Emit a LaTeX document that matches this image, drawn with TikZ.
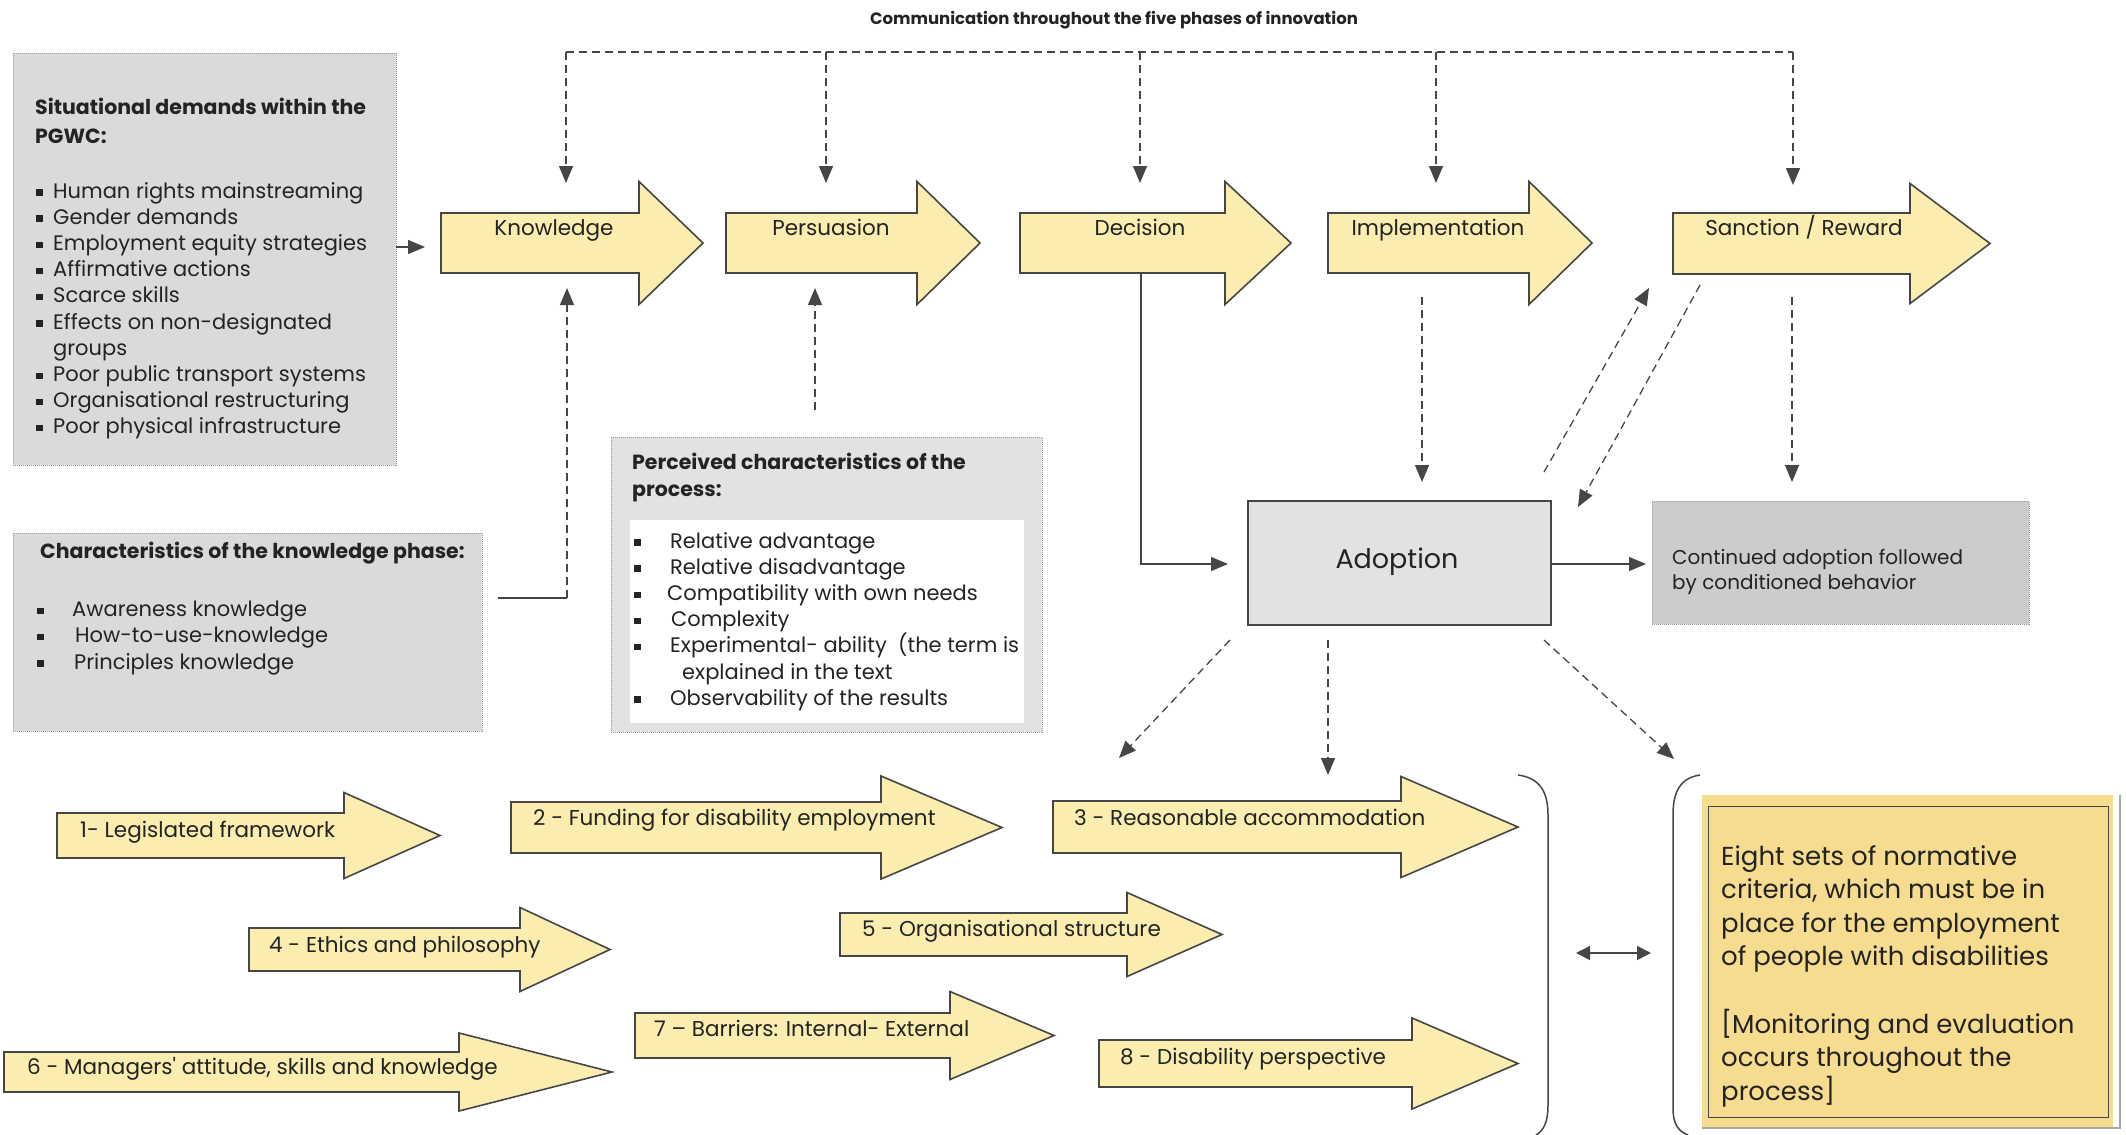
\documentclass[tikz,border=0pt]{standalone}
\usepackage{fontspec}
\setmainfont{Poppins}
\usetikzlibrary{arrows.meta}

\definecolor{pale}{RGB}{250,237,175}
\definecolor{gold}{RGB}{245,220,142}
\definecolor{edge}{RGB}{70,70,70}
\definecolor{ink}{RGB}{35,35,35}
\definecolor{greyA}{RGB}{218,218,218}
\definecolor{greyB}{RGB}{226,226,226}
\definecolor{greyC}{RGB}{204,204,204}

% square bullet in a box of the given width
\newcommand\bul[1]{\makebox[#1][l]{\rule[2.5pt]{6.5pt}{6.5pt}}}
% broad block arrow: x0, y-centre, half body, x of head, half head, x of tip
\newcommand\fatarrow[6]{%
  \draw[fat] (#1,#2-#3) -- (#4,#2-#3) -- (#4,#2-#5) -- (#6,#2)
    -- (#4,#2+#5) -- (#4,#2+#3) -- (#1,#2+#3) -- cycle;}

\begin{document}
\begin{tikzpicture}[x=1pt,y=-1pt,
  txt/.style={inner sep=0pt, text=ink, align=left, anchor=north west,
    font=\fontsize{21}{26.2}\selectfont},
  head/.style={txt, font=\fontsize{20.5}{29}\selectfont\bfseries},
  lbl/.style={inner sep=0pt, text=ink, font=\fontsize{21.5}{25}\selectfont,
    text height=0.75em, text depth=0.25em},
  fat/.style={draw=edge, line width=1.6pt, fill=pale, line join=miter},
  panel/.style={draw=gray!80, dash pattern=on 1pt off 1pt, line width=1pt,
    anchor=north west, inner sep=0pt, outer sep=0pt},
  tipA/.style={-{Triangle[length=17pt,width=14pt]}},
  solidarrow/.style={draw=edge, line width=1.3pt, tipA},
  dsh/.style={draw=edge, line width=1.3pt, dash pattern=on 8pt off 5pt},
  dasharrow/.style={dsh, tipA},
]
\useasboundingbox (0,0) rectangle (2126,1135);

% ---------- title and communication bus ----------
\node[inner sep=0pt, text=ink, font=\fontsize{16.5}{20}\selectfont\bfseries] (comm) at (1114,20)
  {Communication throughout the five phases of innovation};
\coordinate (bus0) at (566,52);
\coordinate (bus4) at (1793,52);
\coordinate (kIn) at (566,183);
\coordinate (pIn) at (826,183);
\coordinate (dIn) at (1140,183);
\coordinate (iIn) at (1436,183);
\coordinate (sIn) at (1793,185);
\draw[dsh] (bus0) -- (bus4);
\foreach \t in {kIn,pIn,dIn,iIn,sIn}
  \draw[dasharrow] (\t |- bus0) -- (\t);

% ---------- five phases ----------
\fatarrow{441}{243}{30}{639}{61.5}{703}
\fatarrow{726}{243}{30}{917}{61.5}{980}
\fatarrow{1020}{243}{30}{1225}{61.5}{1291}
\fatarrow{1328}{243}{30}{1529}{61.5}{1592}
\fatarrow{1673}{243.5}{30.5}{1910}{60}{1990}
\node[lbl] (know) at (554,233) {Knowledge};
\node[lbl] (pers) at (831,233) {Persuasion};
\node[lbl] (deci) at (1140,233) {Decision};
\node[lbl] (impl) at (1438,233) {Implementation};
\node[lbl] (sanc) at (1804,233) {Sanction / Reward};

% ---------- situational demands ----------
\node[panel, fill=greyA, minimum width=383pt, minimum height=412pt] (sit) at (13,53) {};
\node[head] (sitT) at (35,98) {Situational demands within the\\PGWC:};
\node[txt] (sitL) at (36,182) {%
  \bul{17pt}Human rights mainstreaming\\
  \bul{17pt}Gender demands\\
  \bul{17pt}Employment equity strategies\\
  \bul{17pt}Affirmative actions\\
  \bul{17pt}Scarce skills\\
  \bul{17pt}Effects on non-designated\\
  \hspace*{17pt}groups\\
  \bul{17pt}Poor public transport systems\\
  \bul{17pt}Organisational restructuring\\
  \bul{17pt}Poor physical infrastructure};
\coordinate (kLeft) at (425,247);
\draw[solidarrow] (sit.east |- kLeft) -- (kLeft);

% ---------- knowledge phase characteristics ----------
\node[panel, fill=greyA, minimum width=469pt, minimum height=198pt] (chr) at (13,533) {};
\node[head] (chrT) at (40,542) {Characteristics of the knowledge phase:};
\node[txt] (chrL) at (37,601) {%
  \bul{35pt}Awareness knowledge\\
  \bul{38pt}How-to-use-knowledge\\
  \bul{37pt}Principles knowledge};
\coordinate (chOut) at (498,598);
\coordinate (kBelow) at (567,288);
\draw[draw=edge, line width=1.3pt] (chOut) -- (kBelow |- chOut);
\draw[dasharrow] (kBelow |- chOut) -- (kBelow);

% ---------- perceived characteristics ----------
\node[panel, fill=greyB, minimum width=431pt, minimum height=295pt] (prc) at (611,437) {};
\node[fill=white, anchor=north west, inner sep=0pt, minimum width=394pt, minimum height=203pt] (prcW) at (630,520) {};
\node[head, font=\fontsize{20.5}{27}\selectfont\bfseries] (prcT) at (632,453) {Perceived characteristics of the\\process:};
\node[txt] (prcL) at (634,532) {%
  \bul{36pt}Relative advantage\\
  \bul{36pt}Relative disadvantage\\
  \bul{33pt}Compatibility with own needs\\
  \bul{37pt}Complexity\\
  \bul{36pt}Experimental- ability\ \ (the term is\\
  \hspace*{48pt}explained in the text\\
  \bul{36pt}Observability of the results};
\coordinate (prcOut) at (815,410);
\coordinate (pBelow) at (815,288);
\draw[dasharrow] (prcOut) -- (pBelow);

% ---------- adoption ----------
\node[draw=edge, line width=2pt, fill=greyB, anchor=north west, inner sep=0pt,
  minimum width=303pt, minimum height=124pt] (adopt) at (1247,500) {};
\node[inner sep=0pt, text=ink, font=\fontsize{27}{30}\selectfont] (adoptT) at (1397,562) {Adoption};
\node[panel, fill=greyC, minimum width=377pt, minimum height=123pt] (cont) at (1652,501) {};
\node[txt, font=\fontsize{20}{25}\selectfont] (contT) at (1672,549)
  {Continued adoption followed\\by conditioned behavior};

\coordinate (decOut) at (1141,272);
\coordinate (aLeft) at (1228,564);
\draw[solidarrow] (decOut) |- (aLeft);
\coordinate (implOut) at (1422,297);
\coordinate (aTop) at (1422,482);
\draw[dasharrow] (implOut) -- (aTop);
\coordinate (sancOut) at (1792,297);
\coordinate (cTop) at (1792,482);
\draw[dasharrow] (sancOut) -- (cTop);
\coordinate (cLeft) at (1646,564);
\draw[solidarrow] (adopt.east |- cLeft) -- (cLeft);

\coordinate (dgA) at (1544,472);
\coordinate (dgB) at (1649,288);
\coordinate (dgC) at (1700,285);
\coordinate (dgD) at (1578,507);
\draw[dasharrow] (dgA) -- (dgB);
\draw[dasharrow] (dgC) -- (dgD);

\coordinate (adL) at (1230,640);
\coordinate (adM) at (1328,640);
\coordinate (adR) at (1544,640);
\coordinate (toL) at (1119,758);
\coordinate (toM) at (1328,775);
\coordinate (toR) at (1674,759);
\draw[dasharrow] (adL) -- (toL);
\draw[dasharrow] (adM) -- (toM);
\draw[dasharrow] (adR) -- (toR);

% ---------- eight criteria ----------
\fatarrow{57}{835.5}{22.5}{344}{43}{440}
\fatarrow{511}{827.5}{25.5}{881}{51.5}{1002}
\fatarrow{1053}{827}{26}{1401}{50.5}{1518}
\fatarrow{249}{949.5}{21.5}{520}{42}{610}
\fatarrow{840}{934.5}{21.5}{1127}{42}{1222}
\fatarrow{4}{1072}{20}{459}{39}{612}
\fatarrow{635}{1035.5}{22.5}{950}{44}{1054}
\fatarrow{1099}{1063.5}{23.5}{1412}{45.5}{1518}
\node[lbl, anchor=west] (c1) at (80,835) {1- Legislated framework};
\node[lbl, anchor=west] (c2) at (533,823) {2 - Funding for disability employment};
\node[lbl, anchor=west] (c3) at (1074,823) {3 - Reasonable accommodation};
\node[lbl, anchor=west] (c4) at (269,950) {4 - Ethics and philosophy};
\node[lbl, anchor=west] (c5) at (862,934) {5 - Organisational structure};
\node[lbl, anchor=west] (c6) at (27,1072) {6 - Managers\textquotesingle{} attitude, skills and knowledge};
\node[lbl, anchor=west] (c7) at (654,1034) {7 -- Barriers: Internal- External};
\node[lbl, anchor=west] (c8) at (1120,1062) {8 - Disability perspective};

% closing and opening brackets
\draw[draw=edge, line width=1.5pt] (1518,775) .. controls (1540,778) and (1548,792) .. (1548,815)
  -- (1548,1105) .. controls (1548,1122) and (1544,1130) .. (1536,1135);
\draw[draw=edge, line width=1.5pt] (1700,775) .. controls (1680,778) and (1673,792) .. (1673,815)
  -- (1673,1108) .. controls (1673,1124) and (1678,1131) .. (1688,1135);
\coordinate (lnk1) at (1576,953);
\coordinate (lnk2) at (1651,953);
\draw[draw=edge, line width=1.3pt, {Triangle[length=14pt,width=14pt]}-{Triangle[length=14pt,width=14pt]}] (lnk1) -- (lnk2);

% ---------- normative criteria box ----------
\draw[gray!70, line width=1.5pt] (2120,795) -- (2120,1128) -- (1702,1128);
\node[fill=gold, anchor=north west, inner sep=0pt, minimum width=411pt, minimum height=332pt] (crit) at (1702,795) {};
\node[draw=edge, line width=1.4pt, anchor=north west, inner sep=0pt, minimum width=400pt, minimum height=311pt] (critF) at (1708,806) {};
\node[txt, font=\fontsize{26}{33.6}\selectfont] (critT) at (1721,845)
  {Eight sets of normative\\criteria, which must be in\\place for the employment\\of people with disabilities\\[33.6pt]
   [Monitoring and evaluation\\occurs throughout the\\process]};
\end{tikzpicture}
\end{document}
